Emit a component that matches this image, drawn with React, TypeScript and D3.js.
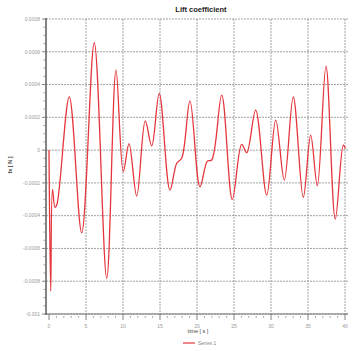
import { useMemo } from 'react';
import * as d3 from 'd3';

// time [s]
const times = [
  0, 0.23, 0.47, 0.81, 1.08, 2.74, 4.42, 6.12, 7.8, 9.05, 10.04, 10.81, 11.85,
  13.01, 13.88, 14.9, 16.35, 17.26, 17.93, 19.05, 20.4, 21.4, 21.99, 23.34,
  24.77, 26.04, 26.72, 27.93, 29.42, 30.64, 31.8, 33.01, 34.36, 35.36, 36.26,
  37.43, 38.69, 39.77, 40.05,
];
// fx [N]
const series1 = [
  0, -0.00086, -0.00024, -0.00035, -0.00033, 0.000325, -0.000505, 0.000655,
  -0.000783, 0.000488, -0.000132, 0.00004, -0.00028, 0.000179, 0.000026,
  0.000346, -0.000244, -0.00008, -0.00005, 0.0003, -0.000224, -0.000067,
  -0.00006, 0.000336, -0.0003, 0.000035, -0.000016, 0.000244, -0.000275,
  0.000183, -0.000183, 0.000325, -0.000289, 0.000092, -0.000218, 0.000513,
  -0.000421, 0.00003, 0.00001,
];
const xTicks = [0, 5, 10, 15, 20, 25, 30, 35, 40];
const yTicks = [0.0008, 0.0006, 0.0004, 0.0002, 0, -0.0002, -0.0004, -0.0006, -0.0008, -0.001];
const yTickLabels = ['0.0008', '0.0006', '0.0004', '0.0002', '0', '-0.0002', '-0.0004', '-0.0006', '-0.0008', '-0.001'];

const W = 355;
const H = 351;

export default function App() {
  const x = d3.scaleLinear().domain([0, 40]).range([49, 345]);
  const y = d3.scaleLinear().domain([-0.001, 0.0008]).range([314, 19]);

  const path = useMemo(() => {
    const line = d3
      .line<number>()
      .x((_, i) => x(times[i]))
      .y((d) => y(d))
      .curve(d3.curveCatmullRom.alpha(0.5));
    return line(series1) || '';
  }, []);

  const xMinor = d3.range(0, 41, 1).filter((t) => t % 5 !== 0);
  const yMinor = d3.range(-0.001, 0.00080001, 0.00005).filter(
    (v) => Math.abs(Math.round(v / 0.0002) * 0.0002 - v) > 1e-9
  );

  const font = 'Liberation Sans, Arial, sans-serif';

  return (
    <svg width={W} height={H} style={{ position: 'absolute', left: 0, top: 0, background: '#fff' }}>
      <text x={201} y={12} textAnchor="middle" fontFamily={font} fontWeight="bold" fontSize={7.5} fill="#222">
        Lift coefficient
      </text>

      {/* grid */}
      {yTicks.map((v) => (
        <line key={'gy' + v} x1={46} x2={348} y1={y(v)} y2={y(v)} stroke="#8a8a8a" strokeWidth={0.8} strokeDasharray="2,1" />
      ))}
      {xTicks.filter((t) => t > 0).map((t) => (
        <line key={'gx' + t} x1={x(t)} x2={x(t)} y1={19} y2={314} stroke="#8a8a8a" strokeWidth={0.8} strokeDasharray="2,1" />
      ))}

      {/* axes */}
      <line x1={46} x2={46} y1={18} y2={315} stroke="#777" strokeWidth={1.8} />
      <line x1={46} x2={348} y1={314} y2={314} stroke="#777" strokeWidth={1} />

      {yTicks.map((v, i) => (
        <g key={'ty' + v}>
          <line x1={42} x2={46} y1={y(v)} y2={y(v)} stroke="#666" strokeWidth={0.8} />
          <text x={40} y={y(v) + 1.8} textAnchor="end" fontFamily={font} fontSize={5} fill="#999">
            {yTickLabels[i]}
          </text>
        </g>
      ))}
      {yMinor.map((v, i) => (
        <line key={'my' + i} x1={43.5} x2={46} y1={y(v)} y2={y(v)} stroke="#777" strokeWidth={0.7} />
      ))}

      {xTicks.map((t) => (
        <g key={'tx' + t}>
          <line x1={x(t)} x2={x(t)} y1={314} y2={320} stroke="#666" strokeWidth={0.8} />
          <text x={x(t)} y={328} textAnchor="middle" fontFamily={font} fontSize={5} fill="#999">
            {t}
          </text>
        </g>
      ))}
      {xMinor.map((t) => (
        <line key={'mx' + t} x1={x(t)} x2={x(t)} y1={316} y2={318} stroke="#888" strokeWidth={0.7} />
      ))}

      <text x={198} y={333} textAnchor="middle" fontFamily={font} fontSize={5.5} fill="#444">
        time [ s ]
      </text>
      <text
        transform="translate(12,165) rotate(-90)"
        textAnchor="middle"
        fontFamily={font}
        fontWeight="bold"
        fontSize={5.5}
        fill="#444"
      >
        fx [ N ]
      </text>

      {/* data */}
      <path d={path} fill="none" stroke="#e5363d" strokeWidth={1.3} />

      {/* legend */}
      <line x1={183} x2={195} y1={343} y2={343} stroke="#e5363d" strokeWidth={1.2} />
      <text x={198} y={345} fontFamily={font} fontSize={5} fill="#888">
        Series 1
      </text>
    </svg>
  );
}
